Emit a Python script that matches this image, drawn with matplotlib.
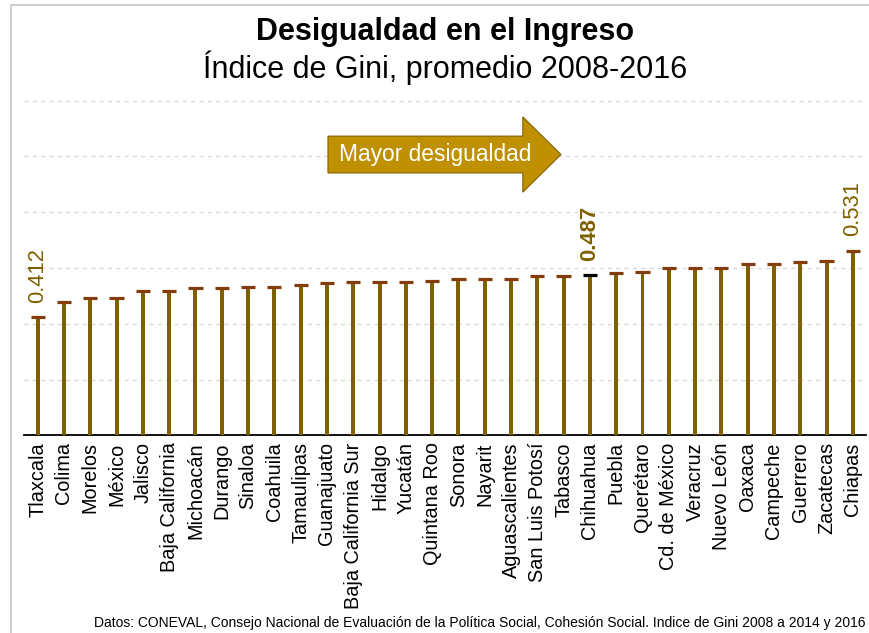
import matplotlib
matplotlib.use("Agg")
import matplotlib.pyplot as plt
import numpy as np
from matplotlib.lines import Line2D
from matplotlib.patches import FancyArrow

plt.rcParams['font.family'] = ['Liberation Sans', 'DejaVu Sans']

# === Data ===
estados = ["Tlaxcala", "Colima", "Morelos", "México", "Jalisco", "Baja California",
           "Michoacán", "Durango", "Sinaloa", "Coahuila", "Tamaulipas", "Guanajuato",
           "Baja California Sur", "Hidalgo", "Yucatán", "Quintana Roo", "Sonora",
           "Nayarit", "Aguascalientes", "San Luis Potosí", "Tabasco", "Chihuahua",
           "Puebla", "Querétaro", "Cd. de México", "Veracruz", "Nuevo León", "Oaxaca",
           "Campeche", "Guerrero", "Zacatecas", "Chiapas"]
gini = [0.412, 0.439, 0.447, 0.447, 0.458, 0.458, 0.464, 0.464, 0.466, 0.466,
        0.470, 0.473, 0.475, 0.475, 0.475, 0.477, 0.481, 0.481, 0.481, 0.485,
        0.486, 0.487, 0.491, 0.493, 0.500, 0.500, 0.500, 0.508, 0.508, 0.510,
        0.513, 0.531]
destacado = "Chihuahua"
etiquetas = ["Tlaxcala", "Chihuahua", "Chiapas"]

# === Colors ===
c_stem = "#7F6000"
c_cap = "#843C0C"
c_text = "#7F6000"
c_arrow = "#BF9000"

fig = plt.figure(figsize=(8.7, 6.33), dpi=100)
ax = fig.add_axes([0.0276, 0.3123, 0.9678, 0.5330])

x = np.arange(len(estados))
vals = np.array(gini)
base = 0.2

# stems
ax.bar(x, vals - base, bottom=base, width=0.15, color=c_stem, zorder=3)
# caps
cap_colors = ["black" if e == destacado else c_cap for e in estados]
ax.hlines(vals, x - 0.27, x + 0.27, colors=cap_colors, linewidth=2.3, zorder=4)

# value labels
for i, (e, v) in enumerate(zip(estados, gini)):
    if e in etiquetas:
        ax.annotate(f"{v:.3f}", (i, v), xytext=(0, 10.5), textcoords="offset points",
                    rotation=90, ha="center", va="bottom", fontsize=15.8, color=c_text,
                    fontweight="bold" if e == destacado else "normal")

# arrow
ax.add_patch(FancyArrow(11.04, 0.7035, 8.86, 0, width=0.066, head_width=0.135,
                        head_length=1.45, length_includes_head=True,
                        facecolor=c_arrow, edgecolor=c_stem, linewidth=0.8, zorder=5))
ax.text(15.1, 0.7035, "Mayor desigualdad", color="white", fontsize=16.4,
        ha="center", va="center", zorder=6)

# axes style
ax.set_xlim(-0.52, 31.5)
ax.set_ylim(base, 0.805)
ax.set_yticks([0.3, 0.4, 0.5, 0.6, 0.7, 0.8])
ax.set_yticklabels([])
ax.yaxis.grid(True, linestyle=(0, (3, 3)), color="#D9D9D9", linewidth=1)
ax.set_axisbelow(True)
ax.set_xticks(x)
ax.set_xticklabels(estados, rotation=90, fontsize=14.3)
ax.tick_params(axis="both", length=0)
ax.tick_params(axis="x", pad=5)
for s in ["left", "right", "top"]:
    ax.spines[s].set_visible(False)
ax.spines["bottom"].set_color("black")
ax.spines["bottom"].set_linewidth(1.3)

# titles
fig.text(0.5115, 0.9494, "Desigualdad en el Ingreso", ha="center", va="center",
         fontsize=22, fontweight="bold")
fig.text(0.5115, 0.8926, "Índice de Gini, promedio 2008-2016", ha="center",
         va="center", fontsize=22)
fig.text(0.9954, 0.0158,
         "Datos: CONEVAL, Consejo Nacional de Evaluación de la Política Social, "
         "Cohesión Social. Indice de Gini 2008 a 2014 y 2016",
         ha="right", va="center", fontsize=10)

# panel border
fig.add_artist(Line2D([11 / 870, 11 / 870], [0, 1 - 5 / 633], color="#D0D0D0", linewidth=1.5))
fig.add_artist(Line2D([11 / 870, 1], [1 - 5 / 633, 1 - 5 / 633], color="#D0D0D0", linewidth=1.5))

fig.savefig("out.png", dpi=100)
